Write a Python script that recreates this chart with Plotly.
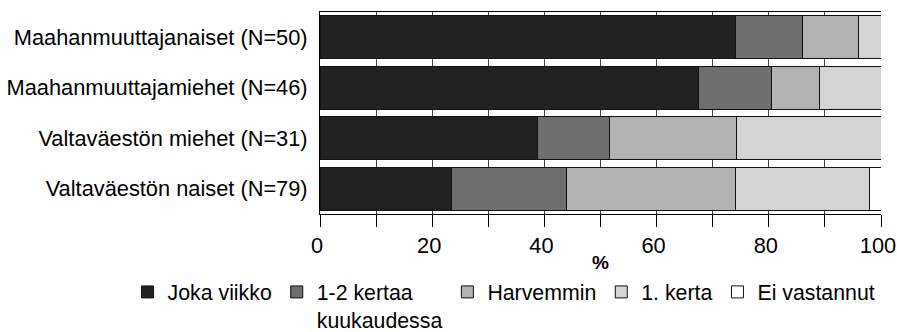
import plotly.graph_objects as go

categories = ["Maahanmuuttajanaiset (N=50)", "Maahanmuuttajamiehet (N=46)",
              "Valtaväestön miehet (N=31)", "Valtaväestön naiset (N=79)"]
series_names = ["Joka viikko", "1-2 kertaa<br>kuukaudessa", "Harvemmin", "1. kerta", "Ei vastannut"]
joka_viikko = [74.0, 67.4, 38.7, 23.5]
kertaa_1_2 = [12.0, 13.0, 12.9, 20.5]
harvemmin = [10.0, 8.7, 22.6, 30.0]
ensi_kerta = [4.0, 10.9, 25.8, 24.0]
ei_vastannut = [0.0, 0.0, 0.0, 2.0]
x_tick_values = [0, 10, 20, 30, 40, 50, 60, 70, 80, 90, 100]
x_tick_labels = ["0", "", "20", "", "40", "", "60", "", "80", "", "100"]
x_title = "%"

colors = ["#222222", "#6f6f6f", "#b3b3b3", "#d4d4d4", "#ffffff"]
values = [joka_viikko, kertaa_1_2, harvemmin, ensi_kerta, ei_vastannut]

fig = go.Figure()
for name, vals, col in zip(series_names, values, colors):
    fig.add_trace(go.Bar(
        y=categories, x=vals, name=name, orientation="h",
        marker=dict(color=col, line=dict(color="#111111", width=1)),
    ))

FONT = "Liberation Sans, Arial, sans-serif"
fig.update_layout(
    barmode="stack",
    bargap=0.15,
    width=897, height=332,
    margin=dict(l=320, r=16, t=12, b=118, autoexpand=False),
    paper_bgcolor="white", plot_bgcolor="white",
    font=dict(family=FONT, size=21.8, color="#000"),
    showlegend=True,
    legend=dict(orientation="h", xref="paper", yref="paper",
                x=-0.343, xanchor="left", y=-0.285, yanchor="top",
                valign="top", traceorder="normal",
                font=dict(size=21.3), itemclick=False, tracegroupgap=0),
    annotations=[dict(text="<b>" + x_title + "</b>", xref="paper", yref="paper",
                      x=0.5, y=-0.238, xanchor="center", yanchor="middle",
                      showarrow=False, font=dict(size=19))],
)
fig.update_xaxes(
    range=[0, 100], tickvals=x_tick_values, ticktext=x_tick_labels,
    ticks="outside", ticklen=12, tickcolor="#000", tickwidth=1,
    showgrid=True, gridcolor="#444", gridwidth=1,
    showline=True, linecolor="#000", linewidth=1, mirror=True,
    zeroline=False, automargin=False, ticklabeloverflow="allow",
    ticklabelshift=-3,
)
fig.update_yaxes(
    autorange="reversed", showline=True, linecolor="#000", linewidth=1,
    ticks="", showgrid=False, automargin=False, ticklabelstandoff=7,
)

# remove the browser's default 8px page margin so the 897x332 figure fills the window
fig.write_html("out.html", config={"displayModeBar": False},
               post_script="document.body.style.margin='0';")
